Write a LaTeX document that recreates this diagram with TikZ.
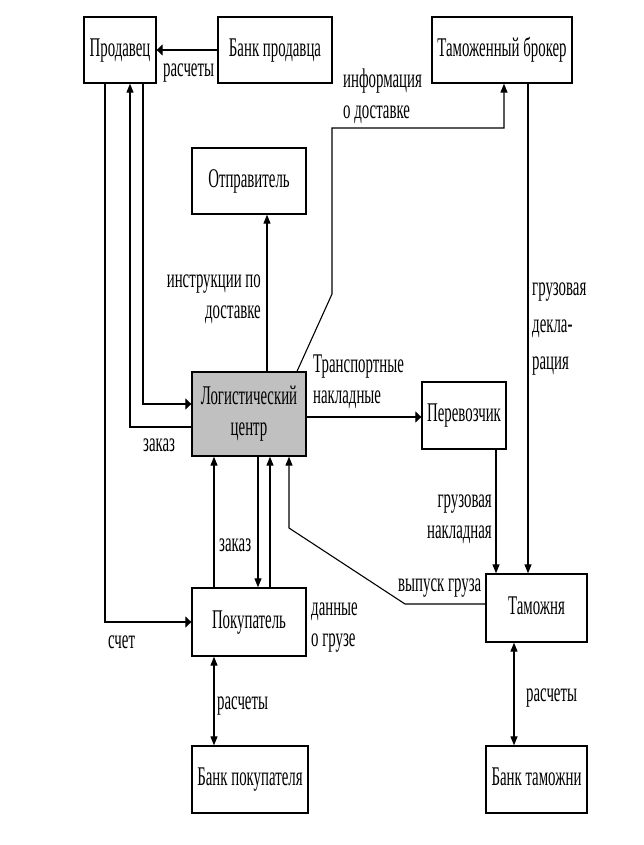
\documentclass[tikz,border=0pt]{standalone}
\usepackage{fontspec}
\setmainfont{Liberation Serif}
\usepackage{graphicx}
\usetikzlibrary{arrows.meta}
\newcommand\sq[2][c]{\scalebox{0.55}[1]{\begin{tabular}{@{}#1@{}}#2\end{tabular}}}
\tikzset{
  every node/.style={font=\fontsize{27}{31}\selectfont},
  box/.style={draw, line width=1.3pt, inner sep=0pt, minimum height=66pt},
  lab/.style={inner sep=0pt},
  conn/.style={line width=1.1pt},
  varr/.style={conn, -{Triangle[width=7pt,length=9pt]}},
  harr/.style={conn, -{Triangle[width=11pt,length=6pt]}},
  dvarr/.style={conn, {Triangle[width=7pt,length=9pt]}-{Triangle[width=7pt,length=9pt]}},
}
\definecolor{lcgray}{RGB}{192,192,192}
\begin{document}
\begin{tikzpicture}[x=1pt,y=-1pt]
\useasboundingbox (0,0) rectangle (644,845);
% boxes
\node[box, minimum width=72pt] (prod) at (120,50) {\sq{Продавец}};
\node[box, minimum width=114pt] (bankp) at (275,50) {\sq{Банк продавца}};
\node[box, minimum width=140pt] (broker) at (502,50) {\sq{Таможенный брокер}};
\node[box, minimum width=114pt] (otpr) at (249,181) {\sq{Отправитель}};
\node[box, minimum width=114pt, minimum height=84pt, fill=lcgray] (lc) at (249,414) {\sq{Логистический\\центр}};
\node[box, minimum width=84pt, minimum height=67pt] (perev) at (464,415.5) {\sq{Перевозчик}};
\node[box, minimum width=114pt, minimum height=68pt] (pokup) at (249,622) {\sq{Покупатель}};
\node[box, minimum width=101pt, minimum height=68pt] (tam) at (536.5,608) {\sq{Таможня}};
\node[box, minimum width=116pt, minimum height=67pt] (bankpok) at (250,779.5) {\sq{Банк покупателя}};
\node[box, minimum width=101pt, minimum height=67pt] (banktam) at (536.5,779.5) {\sq{Банк таможни}};
% connectors
\draw[harr] (bankp.west) -- (prod.east);
\draw[varr] (lc.west |- 0,427) -| (prod.south -| 130,0);
\draw[harr] (prod.south -| 143,0) |- (lc.west |- 0,404);
\draw[harr] (prod.south -| 105,0) |- (pokup.west);
\draw[varr] (lc.north -| 267,0) -- (otpr.south -| 267,0);
\draw[varr] (lc.north -| 297,0) -- (332,294) -- (332,128) -| (broker.south -| 504,0);
\draw[harr] (lc.east |- 0,417) -- (perev.west |- 0,417);
\draw[varr] (broker.south -| 528,0) -- (tam.north -| 528,0);
\draw[varr] (perev.south -| 496,0) -- (tam.north -| 496,0);
\draw[varr] (tam.west |- 0,604) -- (405,604) -- (289,528) -- (lc.south -| 289,0);
\draw[varr] (pokup.north -| 214,0) -- (lc.south -| 214,0);
\draw[varr] (lc.south -| 258,0) -- (pokup.north -| 258,0);
\draw[varr] (pokup.north -| 270,0) -- (lc.south -| 270,0);
\draw[dvarr] (pokup.south -| 214,0) -- (bankpok.north -| 214,0);
\draw[dvarr] (tam.south -| 514,0) -- (banktam.north -| 514,0);
% labels
\node[lab, anchor=west] (l1) at (163,70) {\sq{расчеты}};
\node[lab, anchor=west] (l2) at (343,97) {\sq[l]{информация\\о доставке}};
\node[lab, anchor=east] (l3) at (261,297) {\sq[r]{инструкции по\\доставке}};
\node[lab, anchor=west] (l4) at (313,381.5) {\sq[l]{Транспортные\\накладные}};
\node[lab, anchor=west] (l5) at (143,445) {\sq{заказ}};
\node[lab, anchor=west] (l6) at (532,326.5) {\sq[l]{грузовая\\[6pt]декла-\\[6pt]рация}};
\node[lab, anchor=east] (l7) at (492,516.5) {\sq[r]{грузовая\\накладная}};
\node[lab, anchor=west] (l8) at (219,545) {\sq{заказ}};
\node[lab, anchor=west] (l9) at (398,585) {\sq{выпуск груза}};
\node[lab, anchor=west] (l10) at (311,625) {\sq[l]{данные\\о грузе}};
\node[lab, anchor=west] (l11) at (108,642) {\sq{счет}};
\node[lab, anchor=west] (l12) at (217,703) {\sq{расчеты}};
\node[lab, anchor=west] (l13) at (526,695) {\sq{расчеты}};
\end{tikzpicture}
\end{document}
